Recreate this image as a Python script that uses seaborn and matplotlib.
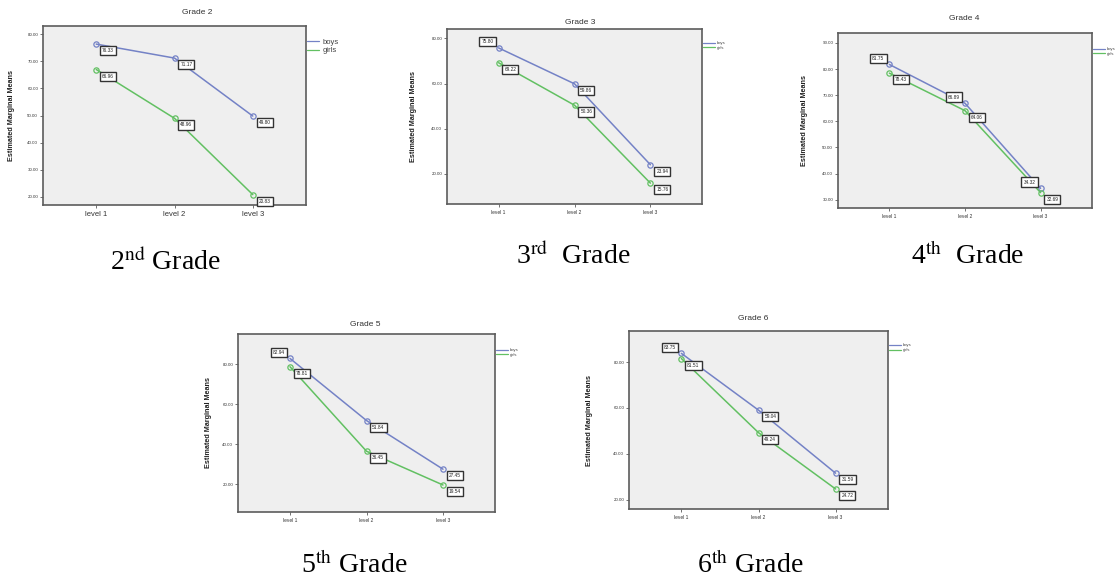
import numpy as np
import pandas as pd
import matplotlib
matplotlib.use('Agg')
import matplotlib.pyplot as plt
from matplotlib.lines import Line2D
from matplotlib.ticker import FormatStrFormatter
import seaborn as sns

# ==========================================
# data
# ==========================================
LEVELS = ['level 1', 'level 2', 'level 3']
SEXES = ['boys', 'girls']
GRADES = ['Grade 2', 'Grade 3', 'Grade 4', 'Grade 5', 'Grade 6']
CAPTIONS = [r'2$^{\rm nd}$ Grade', r'3$^{\rm rd}$  Grade', r'4$^{\rm th}$  Grade',
            r'5$^{\rm th}$ Grade', r'6$^{\rm th}$ Grade']

GRADE2_BOYS = [76.33, 71.17, 49.80]
GRADE2_GIRLS = [66.96, 48.96, 20.83]
GRADE3_BOYS = [75.80, 59.86, 23.94]
GRADE3_GIRLS = [69.22, 50.36, 15.76]
GRADE4_BOYS = [81.75, 66.89, 34.32]
GRADE4_GIRLS = [78.43, 64.06, 32.69]
GRADE5_BOYS = [82.94, 51.84, 27.45]
GRADE5_GIRLS = [78.81, 36.45, 19.54]
GRADE6_BOYS = [83.75, 59.04, 31.59]
GRADE6_GIRLS = [81.51, 49.24, 24.72]

Y_TICKS_G2 = [20, 30, 40, 50, 60, 70, 80]
Y_TICKS_G3 = [20, 40, 60, 80]
Y_TICKS_G4 = [30, 40, 50, 60, 70, 80, 90]
Y_TICKS_G5 = [20, 40, 60, 80]
Y_TICKS_G6 = [20, 40, 60, 80]

BOYS = [GRADE2_BOYS, GRADE3_BOYS, GRADE4_BOYS, GRADE5_BOYS, GRADE6_BOYS]
GIRLS = [GRADE2_GIRLS, GRADE3_GIRLS, GRADE4_GIRLS, GRADE5_GIRLS, GRADE6_GIRLS]
Y_TICKS = [Y_TICKS_G2, Y_TICKS_G3, Y_TICKS_G4, Y_TICKS_G5, Y_TICKS_G6]

# ==========================================
# layout / style
# ==========================================
W, H = 1118, 580
COLORS = {'boys': '#7482c6', 'girls': '#62c062'}
BG = '#efefef'
FRAME = '#5c5c5c'

# frame in pixels: left, top, right, bottom
FRAMES = [(43, 26, 306, 205), (447, 29, 702, 204), (838, 33, 1092, 208),
          (238, 334, 495, 512), (629, 331, 888, 509)]
YLIMS = [(17, 83), (6.5, 84.2), (26.8, 93.8), (6, 95.2), (16, 93.5)]
TITLE_POS = [(197, 13), (580, 22), (964, 19), (365, 324), (753, 318)]
CAPTION_POS = [(165, 262), (573, 256), (968, 256), (354, 565), (750, 565)]
YLABEL_X = [-0.106, -0.118, -0.118, -0.101, -0.139]
XTICK_SIZE = [5.5, 3.5, 3.5, 3.5, 3.5]
LEGEND_SIZE = [5.5, 3.0, 3.0, 3.0, 3.0]
LEGEND_Y = [0.93, 0.93, 0.92, 0.92, 0.93]
# value boxes that sit up-left of the point instead of down-right
UP_LEFT = {(1, 'boys', 0), (2, 'boys', 0), (2, 'boys', 1), (2, 'boys', 2),
           (3, 'boys', 0), (4, 'boys', 0)}

sns.set_style('white')
plt.rcParams['font.family'] = ['Liberation Sans', 'DejaVu Sans']
plt.rcParams['mathtext.fontset'] = 'stix'

fig = plt.figure(figsize=(W / 100, H / 100), dpi=100)
fig.patch.set_facecolor('white')

for g in range(len(GRADES)):
    df = pd.DataFrame({
        'level': LEVELS * 2,
        'mean': BOYS[g] + GIRLS[g],
        'sex': ['boys'] * 3 + ['girls'] * 3,
    })
    l, t, r, b = FRAMES[g]
    ax = fig.add_axes([l / W, 1 - b / H, (r - l) / W, (b - t) / H])
    ax.set_facecolor(BG)

    sns.lineplot(data=df, x='level', y='mean', hue='sex', palette=COLORS,
                 marker='o', markersize=3.8, linewidth=1.1, legend=False,
                 sort=False, ax=ax)
    for line in ax.lines:
        line.set_markerfacecolor('none')
        line.set_markeredgecolor(line.get_color())
        line.set_markeredgewidth(0.9)

    # value boxes
    for sex, vals in zip(SEXES, [BOYS[g], GIRLS[g]]):
        for i, v in enumerate(vals):
            if (g, sex, i) in UP_LEFT:
                off = (-8, 4.5)
            else:
                off = (8.5, -4.8)
            ax.annotate(f'{v:.2f}', xy=(i, v), xytext=off, textcoords='offset points',
                        ha='center', va='center', fontsize=3.4, color='#222222',
                        bbox=dict(boxstyle='square,pad=0.45', fc='white', ec='#333333', lw=1.0))

    ax.set_xlim(-0.68, 2.68)
    ax.set_ylim(*YLIMS[g])
    ax.set_yticks(Y_TICKS[g])
    ax.yaxis.set_major_formatter(FormatStrFormatter('%.2f'))
    ax.tick_params(axis='y', labelsize=3.2, length=2.5, width=0.6, color=FRAME, pad=1, labelcolor='#333333')
    ax.tick_params(axis='x', labelsize=XTICK_SIZE[g], length=2.5, width=0.6, color=FRAME, pad=2,
                   labelcolor='#333333')
    ax.tick_params(left=True, bottom=True)
    ax.set_xlabel('')
    ax.set_ylabel('Estimated Marginal Means', fontsize=5.2, fontweight='bold', color='#222222')
    ax.yaxis.set_label_coords(YLABEL_X[g], 0.5)
    for s in ax.spines.values():
        s.set_color(FRAME)
        s.set_linewidth(1.2)

    handles = [Line2D([], [], color=COLORS[s], lw=0.9) for s in SEXES]
    ax.legend(handles, SEXES, loc='upper left', bbox_to_anchor=(1.005, LEGEND_Y[g]),
              frameon=False, fontsize=LEGEND_SIZE[g], handlelength=12 / (LEGEND_SIZE[g] * 1.39),
              handletextpad=0.4, labelspacing=0.15, borderaxespad=0, borderpad=0,
              labelcolor='#444444')

    tx, ty = TITLE_POS[g]
    fig.text(tx / W, 1 - ty / H, GRADES[g], ha='center', va='center', fontsize=6, color='#333333')
    cx, cy = CAPTION_POS[g]
    fig.text(cx / W, 1 - cy / H, CAPTIONS[g], ha='center', va='center', fontsize=20,
             family='Liberation Serif', color='black')

fig.savefig('out.png', dpi=100)
